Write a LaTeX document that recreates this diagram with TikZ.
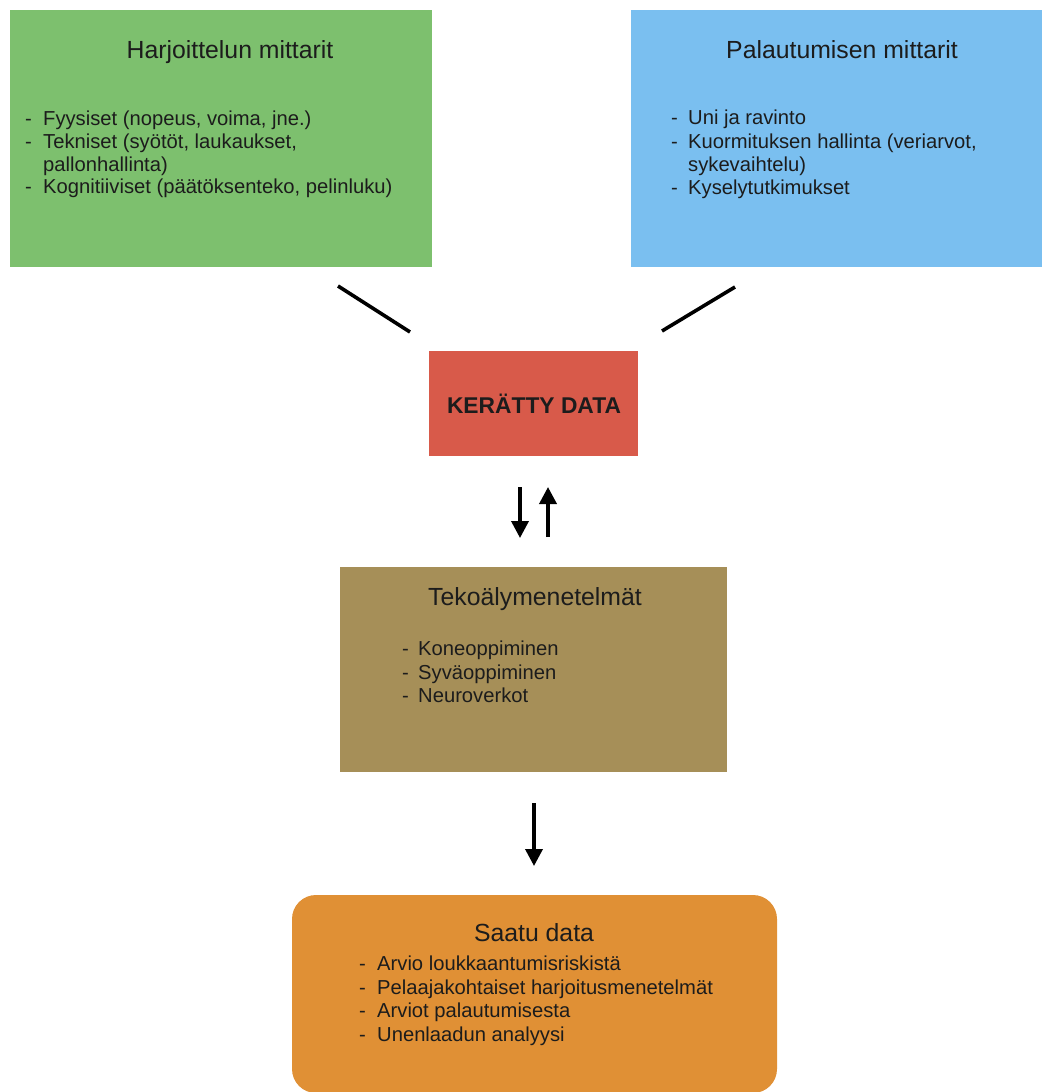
\documentclass[tikz,border=0pt]{standalone}
\usepackage{fontspec}
\setmainfont{Liberation Sans}
\usetikzlibrary{arrows.meta}
\definecolor{cgreen}{HTML}{7DC06E}
\definecolor{cblue}{HTML}{7ABFF0}
\definecolor{cred}{HTML}{D85A4A}
\definecolor{cbrown}{HTML}{A68F58}
\definecolor{corange}{HTML}{E09035}
\definecolor{ctext}{HTML}{1C1C1C}
\begin{document}
\begin{tikzpicture}[x=1pt,y=-1pt,
  ttl/.style={anchor=base, inner sep=0pt, text=ctext, font=\fontsize{24.8}{28}\selectfont},
  itm/.style={anchor=base west, inner sep=0pt, text=ctext, font=\fontsize{20.2}{23}\selectfont},
  dsh/.style={anchor=base west, inner sep=0pt, text=ctext, font=\fontsize{20.2}{23}\selectfont},
  conn/.style={line width=3.6pt, black},
  arr/.style={line width=3.6pt, black, -{Triangle[width=17pt,length=17pt]}}]
\useasboundingbox (0,0) rectangle (1042,1092);
\begin{scope}
\clip (0,0) rectangle (1042,1092);
% boxes
\fill[cgreen] (10,10) rectangle (432,267);
\fill[cblue] (631,10) rectangle (1042,267);
\fill[cred] (429,351) rectangle (638,456);
\fill[cbrown] (340,567) rectangle (727,772);
\fill[corange, rounded corners=24pt] (292,895) rectangle (777,1093);
\end{scope}
% green content
\node[ttl] (gt) at (230,58) {Harjoittelun mittarit};
\node[dsh] (gd1) at (25,125.5) {-};
\node[itm] (g1) at (43,125.5) {Fyysiset (nopeus, voima, jne.)};
\node[dsh] (gd2) at (25,148.5) {-};
\node[itm] (g2) at (43,148.5) {Tekniset (syötöt, laukaukset,};
\node[itm] (g3) at (43,171) {pallonhallinta)};
\node[dsh] (gd4) at (25,193.5) {-};
\node[itm] (g4) at (43,193.5) {Kognitiiviset (päätöksenteko, pelinluku)};
% blue content
\node[ttl] (bt) at (842,58) {Palautumisen mittarit};
\node[dsh] (bd1) at (671,124.5) {-};
\node[itm] (b1) at (688,124.5) {Uni ja ravinto};
\node[dsh] (bd2) at (671,148) {-};
\node[itm] (b2) at (688,148) {Kuormituksen hallinta (veriarvot,};
\node[itm] (b3) at (688,171) {sykevaihtelu)};
\node[dsh] (bd4) at (671,194) {-};
\node[itm] (b4) at (688,194) {Kyselytutkimukset};
% red
\node[anchor=base, inner sep=0pt, text=ctext, font=\fontsize{22.8}{26}\selectfont\bfseries] (red) at (534,413) {KERÄTTY DATA};
% brown content
\node[ttl] (tt) at (535,605) {Tekoälymenetelmät};
\node[dsh] (td1) at (402,655) {-};
\node[itm] (t1) at (418,655) {Koneoppiminen};
\node[dsh] (td2) at (402,679) {-};
\node[itm] (t2) at (418,679) {Syväoppiminen};
\node[dsh] (td3) at (402,702) {-};
\node[itm] (t3) at (418,702) {Neuroverkot};
% orange content
\node[ttl] (ot) at (534,941) {Saatu data};
\node[dsh] (od1) at (359,970) {-};
\node[itm] (o1) at (377,970) {Arvio loukkaantumisriskistä};
\node[dsh] (od2) at (359,994) {-};
\node[itm] (o2) at (377,994) {Pelaajakohtaiset harjoitusmenetelmät};
\node[dsh] (od3) at (359,1017) {-};
\node[itm] (o3) at (377,1017) {Arviot palautumisesta};
\node[dsh] (od4) at (359,1041) {-};
\node[itm] (o4) at (377,1041) {Unenlaadun analyysi};
% connectors
\coordinate (l1) at (338,286);
\coordinate (l2) at (410,332);
\coordinate (r1) at (662,331);
\coordinate (r2) at (735,287);
\draw[conn] (l1) -- (l2);
\draw[conn] (r1) -- (r2);
\coordinate (a1s) at (520,487);
\coordinate (a1e) at (520,538);
\coordinate (a2s) at (548,537);
\coordinate (a2e) at (548,487);
\coordinate (a3s) at (534,803);
\coordinate (a3e) at (534,866);
\draw[arr] (a1s) -- (a1e);
\draw[arr] (a2s) -- (a2e);
\draw[arr] (a3s) -- (a3e);
\end{tikzpicture}
\end{document}
